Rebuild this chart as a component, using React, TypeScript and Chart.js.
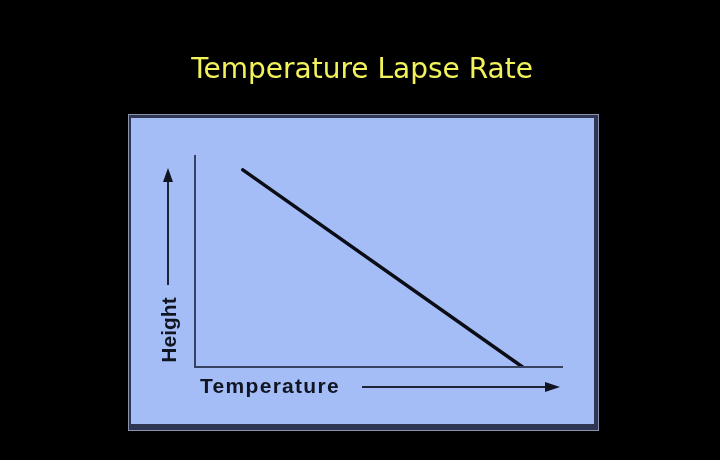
import React, { useEffect, useRef } from "react";
import { Chart, registerables } from "chart.js";

Chart.register(...registerables);

const titleText = "Temperature Lapse Rate";
const xAxisLabel = "Temperature";
const yAxisLabel = "Height";
const temperatureValues = [13, 89];
const heightValues = [93, 0];

const backdropPlugin = {
  id: "backdrop",
  beforeDraw(chart: any) {
    const { ctx, width, height } = chart;
    ctx.save();
    ctx.fillStyle = "#000000";
    ctx.fillRect(0, 0, width, height);
    // panel
    ctx.fillStyle = "#8a93ad";
    ctx.fillRect(128, 114, 471, 317);
    ctx.fillStyle = "#2f3652";
    ctx.fillRect(129, 115, 469, 315);
    ctx.fillStyle = "#a5bdf6";
    ctx.fillRect(131, 118, 463, 306);
    // title
    ctx.fillStyle = "#f2f25a";
    ctx.font = "28px 'DejaVu Sans', Verdana, sans-serif";
    ctx.textAlign = "center";
    ctx.textBaseline = "alphabetic";
    ctx.fillText(titleText, 362, 78);
    ctx.restore();
  },
  afterDatasetsDraw(chart: any) {
    const { ctx, chartArea } = chart;
    const { left, right, top, bottom } = chartArea;
    ctx.save();
    ctx.strokeStyle = "#36425f";
    ctx.lineWidth = 2;
    ctx.beginPath();
    ctx.moveTo(left, top);
    ctx.lineTo(left, bottom);
    ctx.lineTo(right, bottom);
    ctx.stroke();

    // y label + arrow
    ctx.fillStyle = "#111522";
    ctx.font = "bold 21px 'Liberation Sans', Arial, sans-serif";
    ctx.textAlign = "center";
    ctx.textBaseline = "middle";
    ctx.save();
    ctx.translate(170, 330);
    ctx.rotate(-Math.PI / 2);
    ctx.fillText(yAxisLabel, 0, 0);
    ctx.restore();
    ctx.strokeStyle = "#1e2438";
    ctx.lineWidth = 2;
    ctx.beginPath();
    ctx.moveTo(168, 285);
    ctx.lineTo(168, 176);
    ctx.stroke();
    ctx.fillStyle = "#111522";
    ctx.beginPath();
    ctx.moveTo(168, 168);
    ctx.lineTo(163, 182);
    ctx.lineTo(173, 182);
    ctx.closePath();
    ctx.fill();

    // x label + arrow
    ctx.save();
    ctx.font = "bold 21px 'Liberation Sans', Arial, sans-serif";
    (ctx as any).letterSpacing = "1.3px";
    ctx.textAlign = "left";
    ctx.fillText(xAxisLabel, 200, 387);
    ctx.restore();
    ctx.beginPath();
    ctx.moveTo(362, 387);
    ctx.lineTo(550, 387);
    ctx.stroke();
    ctx.beginPath();
    ctx.moveTo(560, 387);
    ctx.lineTo(545, 382);
    ctx.lineTo(545, 392);
    ctx.closePath();
    ctx.fill();
    ctx.restore();
  },
};

export default function App() {
  const ref = useRef<HTMLCanvasElement | null>(null);
  useEffect(() => {
    document.body.style.margin = "0";
    document.body.style.background = "#000";
    const canvas = ref.current!;
    const chart = new Chart(canvas, {
      type: "line",
      data: {
        datasets: [
          {
            data: temperatureValues.map((t, i) => ({ x: t, y: heightValues[i] })),
            borderColor: "#0b0d16",
            borderWidth: 3.5,
            pointRadius: 0,
            fill: false,
            borderCapStyle: "round",
          },
        ],
      },
      options: {
        responsive: false,
        animation: false,
        events: [],
        layout: { padding: { left: 195, right: 157, top: 155, bottom: 93 } },
        plugins: { legend: { display: false }, tooltip: { enabled: false }, title: { display: false } },
        scales: {
          x: { type: "linear", min: 0, max: 100, display: false },
          y: { type: "linear", min: 0, max: 100, display: false },
        },
      },
      plugins: [backdropPlugin],
    });
    return () => chart.destroy();
  }, []);
  return (
    <div style={{ position: "fixed", left: 0, top: 0, width: 720, height: 460, background: "#000" }}>
      <canvas ref={ref} width={720} height={460} style={{ width: 720, height: 460, display: "block" }} />
    </div>
  );
}
